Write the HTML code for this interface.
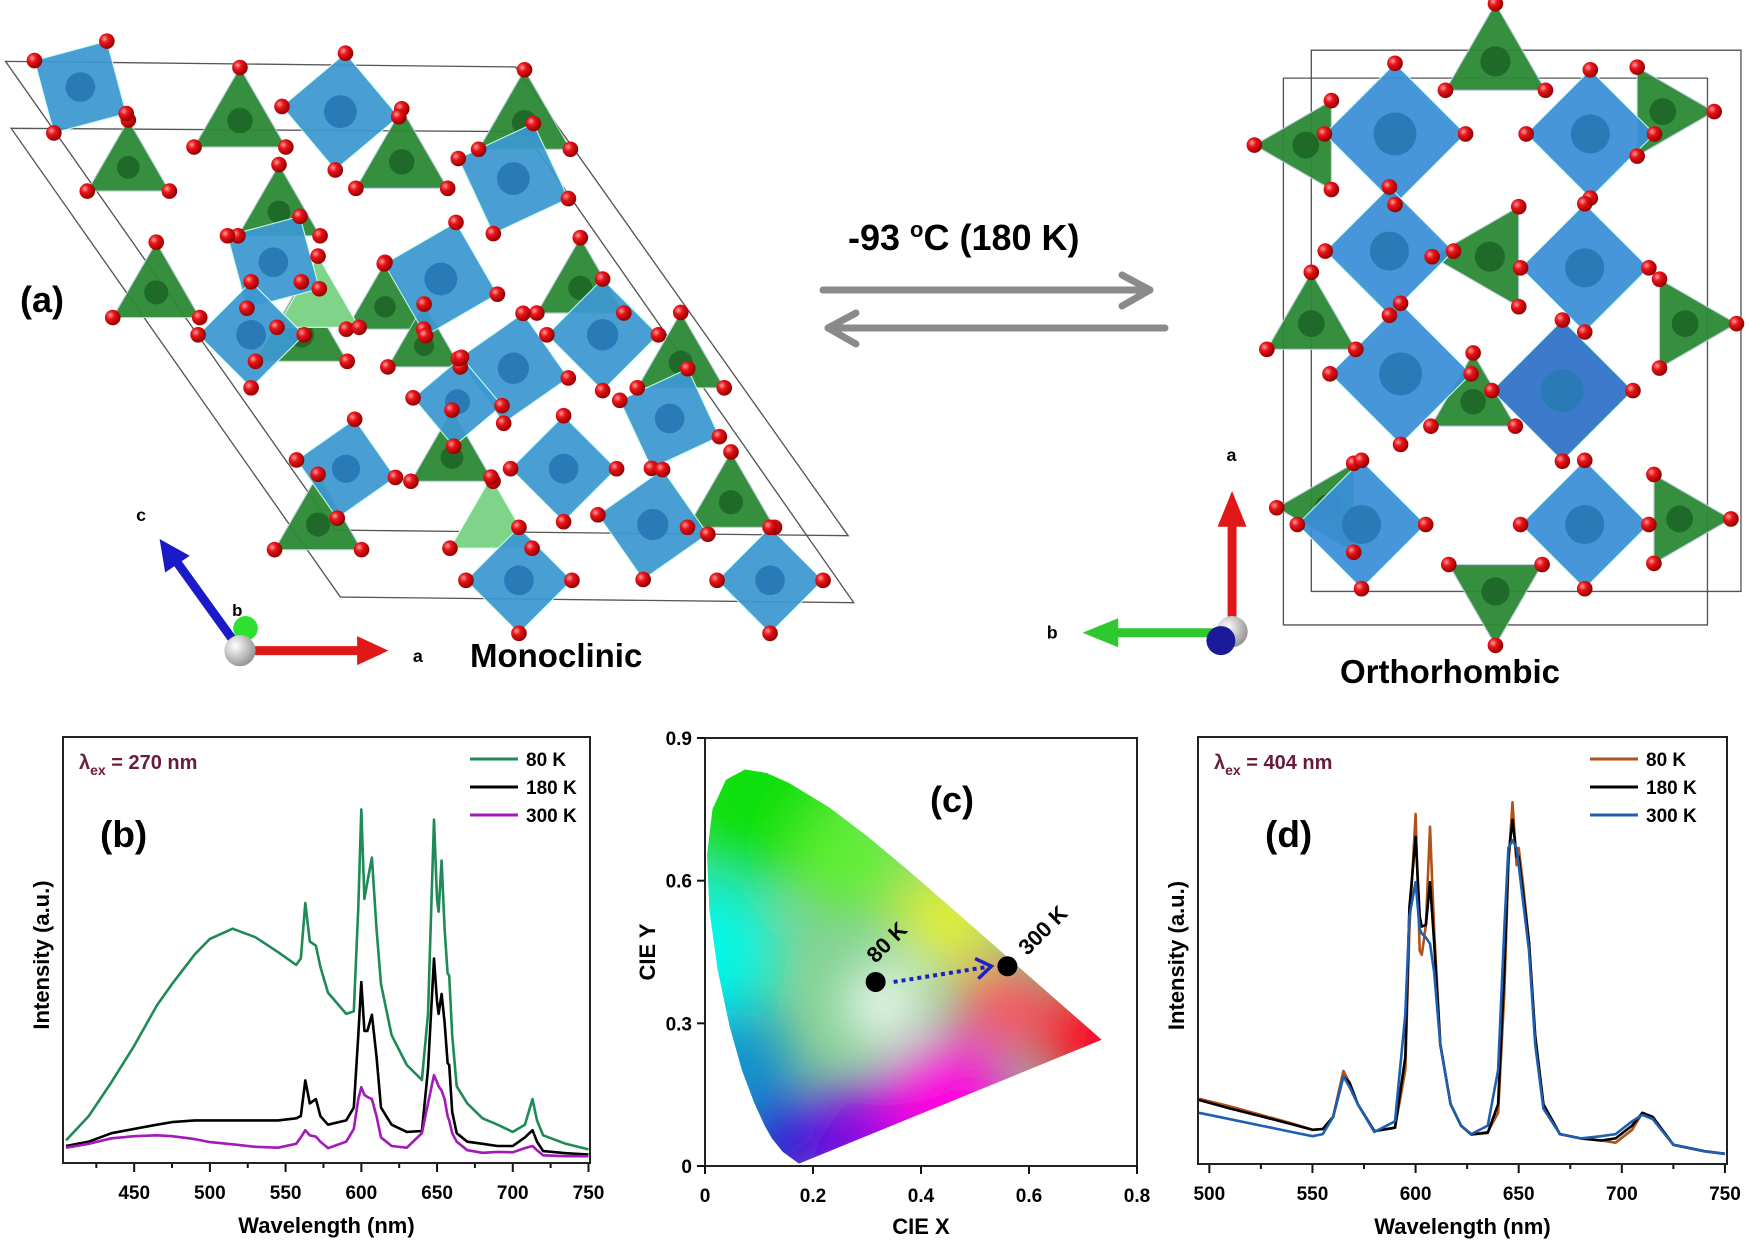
<!DOCTYPE html>
<html><head><meta charset="utf-8"><style>
html,body{margin:0;padding:0;background:#fff;}
svg{display:block;font-family:"Liberation Sans",Arial,sans-serif;}
text{font-weight:bold;}
</style></head><body>
<svg id="fig" width="1750" height="1241" viewBox="0 0 1750 1241" xmlns="http://www.w3.org/2000/svg">
<defs>
<radialGradient id="ball" cx="35%" cy="35%" r="65%"><stop offset="0" stop-color="#ff9a9a"/><stop offset="0.4" stop-color="#e8141a"/><stop offset="1" stop-color="#9a0000"/></radialGradient>
<radialGradient id="wball" cx="35%" cy="35%" r="65%"><stop offset="0" stop-color="#fff"/><stop offset="1" stop-color="#999"/></radialGradient>
<filter id="blur" x="-50%" y="-50%" width="200%" height="200%"><feGaussianBlur stdDeviation="28"/></filter>
</defs>
<g id="top" transform="scale(1.116)">
  <g id="mono"></g>
  <g id="ortho"></g>
</g>
<g stroke="#8a8a8a" stroke-width="7" fill="none" stroke-linecap="round" stroke-linejoin="round">
  <line x1="823" y1="290" x2="1150" y2="290"/><polyline points="1122,275 1150,290 1122,306"/>
  <line x1="1165" y1="328" x2="828" y2="328"/><polyline points="856,313 828,328 856,344"/>
</g>
<text x="848" y="250" font-size="36">-93 <tspan font-size="22" dy="-13">o</tspan><tspan dy="13">C  (180 K)</tspan></text>
<text x="20" y="312" font-size="36">(a)</text>
<text x="470" y="667" font-size="33">Monoclinic</text>
<text x="1340" y="683" font-size="33">Orthorhombic</text>

<g id="chartB"></g>
<g id="chartC"></g>
<g id="chartD"></g>
</svg>
<script>
const NS="http://www.w3.org/2000/svg";
function mk(parent,tag,attrs,txt){const e=document.createElementNS(NS,tag);for(const k in attrs)e.setAttribute(k,attrs[k]);if(txt!==undefined)e.textContent=txt;parent.appendChild(e);return e;}

/* ---------- Chart (b) data ---------- */
const bWavelengths=[405,420,435,450,465,475,490,500,515,530,545,557,560,563,566,570,573,578,590,595,598,600,602,604,607,610,613,620,630,640,644,648,650,651,653,655,657,658,660,663,670,680,690,700,708,713,716,720,735,750];
const b80K=[5.3,11,19,27.5,37,42,49,52.6,55,53,49.5,46.5,48,61,52,51,46,40,35,35.6,60,83,62,66,71.7,55,42,30,23,19.5,35,80.6,62,59,71,55,44.5,44,30,18,14,10.5,9,7.3,9,15,10,6.5,4.5,3.2];
const b180K=[4,5,7,8,9,9.6,10,10,10,10,10,10.5,11,19.4,14,15,11,9,10,13,30,42.5,31,31,34.8,25,13,9,7.3,7.5,22,48,38,35,39.7,33,23.5,23,12,7,5,4.5,4,4,6,7.7,5,2.8,2.3,2];
const b300K=[3.6,4.5,5.8,6.3,6.5,6.3,5.6,4.9,4.4,3.8,3.6,4.5,6,7.7,6.5,6.2,5,3.5,5,8,15,17.8,16,15.5,15,11,6,4,3.6,7,14,20.6,19,18,17,15,11,10,7,5,3,2.4,2.6,2.5,3.5,4,3,1.8,1.6,1.6];
const bTicks=[450,500,550,600,650,700,750];
const bLegend=["80 K","180 K","300 K"];

/* ---------- Chart (d) data ---------- */
const dWavelengths=[495,510,525,540,550,555,560,565,568,572,580,590,595,597,600,602,603,605,607,609,612,617,622,627,635,640,643,645,647,649,650,652,655,658,662,670,680,690,697,705,710,715,725,740,750];
const d80K=[15.3,13.5,11.5,9.5,8,8.2,11,21.8,19,14,7.7,8.5,22,55,82,50,49,56,79,55,28,14,9,6.9,7.5,12,40,70,84.7,70,74,66,52,30,14,7,6,5.5,5,8,12,11,4.5,3,2.4];
const d180K=[15,13,11.2,9.3,8,8.2,11,20.5,19,14,7.7,8.5,25,60,76.6,58,55.6,56,66,52,28,14,9,6.9,7.3,14,45,72,80.6,72,72,64,52,30,14,7,6,5.5,6,9,12,11,4.5,3,2.4];
const d300K=[12,10.5,9,7.5,6.5,7,11,20.5,18,14,7.5,10,35,58,66,55,54,53,51.6,45,28,14,9,7,9,22,55,74,75.8,74,70,62,50,28,13,7,6,6.5,7,10,11.5,10.5,4.5,3,2.4];
const dTicks=[500,550,600,650,700,750];

/* ---------- Chart (c) data ---------- */
const cieX=[0.1741,0.144,0.1241,0.1096,0.0913,0.0687,0.0454,0.0235,0.0082,0.0039,0.0139,0.0389,0.0743,0.1142,0.1547,0.2296,0.3016,0.3731,0.4441,0.5125,0.5752,0.627,0.6915,0.7347];
const cieY=[0.005,0.0297,0.0578,0.0868,0.1327,0.2007,0.295,0.4127,0.5384,0.6548,0.7502,0.812,0.8338,0.8262,0.8059,0.7543,0.6923,0.6245,0.5547,0.4866,0.4242,0.3725,0.3083,0.2653];
const pointLabels=["80 K","300 K"];
const pointX=[0.316,0.56];
const pointY=[0.387,0.42];
const cXTicks=[0,0.2,0.4,0.6,0.8];
const cYTicks=[0,0.3,0.6,0.9];

function drawSpectrum(g,o){
  const {L,R,T,B,x0,x1,ticks,minor,series,colors,names,lam,labelTxt}=o;
  const sx=v=>L+(v-x0)/(x1-x0)*(R-L);
  const sy=v=>B-v/100*(B-T);
  const ax=mk(g,'g',{});
  
  
  ticks.forEach(t=>{const x=sx(t);
    const tk=mk(ax,'line',{x1:x,x2:x,y1:B,y2:B+9,stroke:'#111','stroke-width':2});
    
    const tl=mk(ax,'text',{x:x,y:B+36,'font-size':19,'text-anchor':'middle'},String(t));
    
    if(minor){const xm=sx(t-minor);if(xm>L+2){const m=mk(ax,'line',{x1:xm,x2:xm,y1:B,y2:B+5,stroke:'#111','stroke-width':2});}}
  });
  const xt=mk(g,'text',{x:(L+R)/2,y:B+70,'font-size':22,'text-anchor':'middle'},'Wavelength (nm)');
  
  const yt=mk(g,'text',{x:0,y:0,'font-size':22,'text-anchor':'middle',transform:`translate(${L-14},${(T+B)/2+5}) rotate(-90)`},'Intensity (a.u.)');
  
  series.forEach((s,i)=>{
    const d=s.map((v,j)=>(j?'L':'M')+sx(lam[j]).toFixed(1)+','+sy(v).toFixed(1)).join('');
    const p=mk(g,'path',{d:d,fill:'none',stroke:colors[i],'stroke-width':2.6,'stroke-linejoin':'round'});
    
    
  });
  const fr=mk(g,'rect',{x:L,y:T,width:R-L,height:B-T,fill:'none',stroke:'#222','stroke-width':2});
  
  names.forEach((n,i)=>{
    const y=T+22+i*28;
    const le=mk(g,'g',{});
    
    mk(le,'line',{x1:o.legX,x2:o.legX+48,y1:y,y2:y,stroke:colors[i],'stroke-width':3});
    mk(le,'text',{x:o.legX+56,y:y+7,'font-size':19},n);
  });
  const lt=mk(g,'text',{x:L+16,y:T+32,'font-size':20,fill:'#6a1b3d'});
  
  lt.innerHTML='λ<tspan font-size="14" dy="6">ex</tspan><tspan dy="-6"> = '+labelTxt+'</tspan>';
  const pl=mk(g,'text',{x:o.plx,y:T+110,'font-size':37},o.panel);
  
}

drawSpectrum(document.getElementById('chartB'),{L:63,R:590,T:737,B:1163,x0:403,x1:751,ticks:bTicks,minor:25,
  series:[b80K,b180K,b300K],colors:['#1e8a55','#000000','#a21ab8'],names:bLegend,lam:bWavelengths,labelTxt:'270 nm',legX:470,plx:100,panel:'(b)'});
drawSpectrum(document.getElementById('chartD'),{L:1198,R:1727,T:737,B:1164,x0:494.5,x1:751,ticks:dTicks,minor:25,
  series:[d80K,d180K,d300K],colors:['#b0521c','#000000','#1f5fb0'],names:bLegend,lam:dWavelengths,labelTxt:'404 nm',legX:1590,plx:1265,panel:'(d)'});

/* ---------- Chart (c) ---------- */
(function(){
  const g=document.getElementById('chartC');
  const L=705,R=1137,T=738,B=1166;
  const sx=v=>L+v/0.8*(R-L), sy=v=>B-v/0.9*(B-T);
  const defs=mk(g,'defs',{});
  const cp=mk(defs,'clipPath',{id:'locus'});
  const pts=cieX.map((x,i)=>sx(x).toFixed(1)+','+sy(cieY[i]).toFixed(1)).join(' ');
  mk(cp,'polygon',{points:pts});
  const gam=mk(g,'g',{'clip-path':'url(#locus)'});
  
  mk(gam,'rect',{x:L,y:T,width:R-L,height:B-T,fill:'#80d090'});
  const blobs=[[0.1,0.78,'#10e010',90],[0.0,0.45,'#00f8e8',70],[0.06,0.22,'#0890d0',55],[0.15,0.05,'#1010d8',50],[0.3,0.06,'#8000e8',55],[0.45,0.13,'#ff00e0',65],[0.72,0.27,'#ff0020',55],[0.55,0.34,'#ff5060',45],[0.45,0.52,'#e8f030',50],[0.27,0.65,'#60f030',55],[0.33,0.34,'#ffffff',38]];
  const bg=mk(gam,'g',{filter:'url(#blur)'});
  blobs.forEach(b=>mk(bg,'circle',{cx:sx(b[0]),cy:sy(b[1]),r:b[3],fill:b[2]}));
  const ax=mk(g,'g',{});
  
  mk(ax,'rect',{x:L,y:T,width:R-L,height:B-T,fill:'none',stroke:'#222','stroke-width':2});
  cXTicks.forEach(t=>{const x=sx(t);mk(ax,'line',{x1:x,x2:x,y1:B,y2:B+8,stroke:'#111','stroke-width':2});
    const tl=mk(ax,'text',{x:x,y:B+36,'font-size':19,'text-anchor':'middle'},String(t));
    });
  cYTicks.forEach(t=>{const y=sy(t);mk(ax,'line',{x1:L-8,x2:L,y1:y,y2:y,stroke:'#111','stroke-width':2});
    const tl=mk(ax,'text',{x:L-13,y:y+7,'font-size':19,'text-anchor':'end'},String(t));
    });
  const xt=mk(g,'text',{x:(L+R)/2,y:B+68,'font-size':22,'text-anchor':'middle'},'CIE X');
  
  const yt=mk(g,'text',{x:0,y:0,'font-size':22,'text-anchor':'middle',transform:`translate(${L-50},${(T+B)/2}) rotate(-90)`},'CIE Y');
  
  const x1=sx(pointX[0])+18,y1=sy(pointY[0]),x2=sx(pointX[1])-16,y2=sy(pointY[1]);
  const ar=mk(g,'line',{x1:x1,y1:y1,x2:x2,y2:y2,stroke:'#1a22c0','stroke-width':4,'stroke-dasharray':'4 4'});
  
  const ang=Math.atan2(y2-y1,x2-x1);
  const hp=[[x2-18*Math.cos(ang-0.6),y2-18*Math.sin(ang-0.6)],[x2,y2],[x2-18*Math.cos(ang+0.6),y2-18*Math.sin(ang+0.6)]];
  mk(g,'polyline',{points:hp.map(p=>p.join(',')).join(' '),fill:'none',stroke:'#1a22c0','stroke-width':3.5});
  pointX.forEach((px,i)=>{
    const c=mk(g,'circle',{cx:sx(px),cy:sy(pointY[i]),r:10,fill:'#000'});
    
    const t=mk(g,'text',{x:0,y:0,'font-size':22,transform:`translate(${sx(px)+(i?20:0)},${sy(pointY[i])-(i?10:18)}) rotate(-45)`},pointLabels[i]);
    
  });
  const pl=mk(g,'text',{x:930,y:812,'font-size':36},'(c)');
  
})();

/* ---------- Crystal structures (decorative) ---------- */
function diamond(cx,cy,s,rot){const a=rot*Math.PI/180;return [0,1,2,3].map(k=>{const t=a+k*Math.PI/2;return [cx+s*Math.cos(t),cy+s*Math.sin(t)];});}
function tri(cx,cy,s,rot){const a=(rot-90)*Math.PI/180;return [0,1,2].map(k=>{const t=a+k*2*Math.PI/3;return [cx+s*Math.cos(t),cy+s*Math.sin(t)];});}
function drawStruct(g,blues,greens,lights,cell,k){
  const c=mk(g,'g',{fill:'none',stroke:'#555','stroke-width':1.2});
  cell.forEach(p=>mk(c,'polygon',{points:p.map(q=>q.join(',')).join(' ')}));
  const balls=[];
  greens.forEach(b=>{const v=tri(b[0],b[1],b[2]*k,b[3]||0);
    const p=mk(g,'polygon',{points:v.map(q=>q.join(',')).join(' '),fill:'#2c8a34',stroke:'#bcd','stroke-width':1,opacity:0.95});
    
    mk(g,'circle',{cx:b[0],cy:b[1],r:b[2]*0.3,fill:'#1f6a28'});balls.push(...v);});
  lights.forEach(b=>{const v=tri(b[0],b[1],b[2]*k,b[3]||0);
    mk(g,'polygon',{points:v.map(q=>q.join(',')).join(' '),fill:'#7fd48a',stroke:'#dfe','stroke-width':1});balls.push(...v);});
  blues.forEach(b=>{const v=diamond(b[0],b[1],b[2]*k,b[3]);
    const p=mk(g,'polygon',{points:v.map(q=>q.join(',')).join(' '),fill:b[4]||'#3c98d0',stroke:'#cfe','stroke-width':1,opacity:0.93});
    
    mk(g,'circle',{cx:b[0],cy:b[1],r:b[2]*0.35,fill:'#2a7ab8'});balls.push(...v);});
  balls.forEach(q=>mk(g,'circle',{cx:q[0],cy:q[1],r:7,fill:'url(#ball)'}));
}
drawStruct(document.getElementById('mono'),
 [[72,78,38,30],[305,100,42,5],[460,160,42,20],[245,235,38,30],[395,250,42,15],[225,300,38,0],[460,330,40,10],[540,300,40,0],[600,375,38,20],[310,420,36,10],[505,420,38,0],[410,360,32,5],[465,520,38,0],[585,470,40,10],[690,520,38,0]],
 [[215,108,38],[115,150,34],[250,190,34],[270,300,38],[360,145,38],[345,275,32],[470,110,38],[520,258,36],[380,310,30],[405,410,34],[285,470,36],[610,325,36],[655,450,36],[140,262,36]],
 [[285,272,34],[440,470,34]],
 [[[5,55],[462,60],[760,480],[300,475]],[[10,115],[470,118],[765,540],[305,535]]],1.25);
drawStruct(document.getElementById('ortho'),
 [[1250,120,55,0,'#3a8fd8'],[1425,120,50,0,'#3a8fd8'],[1245,225,50,0,'#3a8fd8'],[1420,240,50,0,'#3a8fd8'],[1255,335,55,0,'#3a8fd8'],[1400,350,55,0,'#2e72c8'],[1220,470,50,0,'#3a8fd8'],[1420,470,50,0,'#3a8fd8']],
 [[1170,130,40,-90],[1340,55,45,0],[1490,100,40,90],[1335,230,45,-90],[1175,290,40,0],[1510,290,40,90],[1320,360,38,0],[1190,455,40,-90],[1505,465,40,90],[1340,530,42,180]],
 [],
 [[[1175,45],[1560,45],[1560,530],[1175,530]],[[1150,70],[1530,70],[1530,560],[1150,560]]],1.15);
/* axis triads */
(function(){
  const g=mk(document.getElementById('top'),'g',{});
  
  mk(g,'line',{x1:215,y1:583,x2:322,y2:583,stroke:'#e01818','stroke-width':8});
  mk(g,'polygon',{points:'320,570 348,583 320,596',fill:'#e01818'});
  mk(g,'line',{x1:212,y1:578,x2:158,y2:503,stroke:'#1a1ac8','stroke-width':8});
  mk(g,'polygon',{points:'143,483 148,513 170,498',fill:'#1a1ac8'});
  mk(g,'circle',{cx:220,cy:563,r:11,fill:'#2fe02f'});
  mk(g,'circle',{cx:215,cy:583,r:14,fill:'url(#wball)'});
  mk(g,'text',{x:122,y:467,'font-size':16},'c');
  mk(g,'text',{x:208,y:552,'font-size':15},'b');
  mk(g,'text',{x:370,y:593,'font-size':16},'a');
  mk(g,'line',{x1:1104,y1:560,x2:1104,y2:470,stroke:'#e01818','stroke-width':8});
  mk(g,'polygon',{points:'1091,472 1104,440 1117,472',fill:'#e01818'});
  mk(g,'line',{x1:1100,y1:567,x2:1000,y2:567,stroke:'#2fc82f','stroke-width':8});
  mk(g,'polygon',{points:'1002,554 970,567 1002,580',fill:'#2fc82f'});
  mk(g,'circle',{cx:1104,cy:566,r:14,fill:'url(#wball)'});
  mk(g,'circle',{cx:1094,cy:574,r:13,fill:'#1a1a9a'});
  mk(g,'text',{x:1099,y:413,'font-size':16},'a');
  mk(g,'text',{x:938,y:572,'font-size':16},'b');
})();
</script>
</body></html>
